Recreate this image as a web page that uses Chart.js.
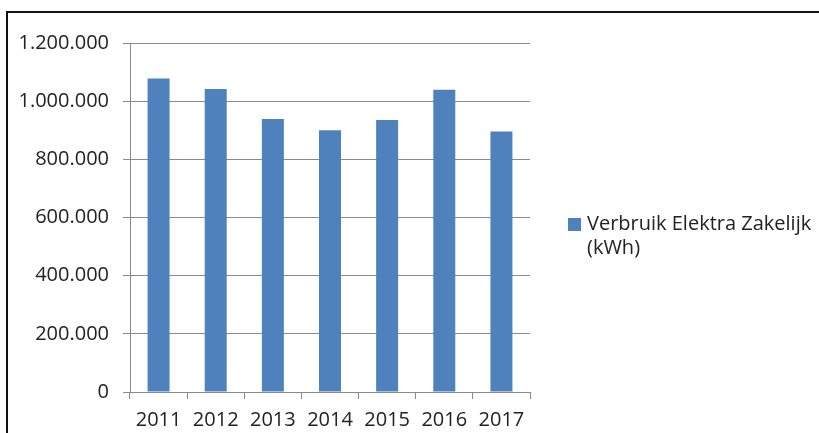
<!DOCTYPE html>
<html>
<head>
<meta charset="utf-8">
<script src="https://cdn.jsdelivr.net/npm/chart.js@4/dist/chart.umd.min.js"></script>
<style>
	html, body { margin: 0; padding: 0; background: #fff; overflow: hidden; }
	#wrap { position: relative; width: 819px; height: 433px; }
	#frame { position: absolute; left: 6px; top: 11px; width: 840px; height: 460px; border: 2px solid #111; box-sizing: border-box; }
	canvas { position: absolute; left: 0; top: 0; }
</style>
</head>
<body>
<div id="wrap">
	<div id="frame"></div>
	<canvas id="chart_canvas" width="819" height="433"></canvas>
</div>
<script>
const years = ["2011", "2012", "2013", "2014", "2015", "2016", "2017"];
const verbruik = [1078000, 1042000, 939000, 900000, 935000, 1039000, 896000];
const seriesLabel = "Verbruik Elektra Zakelijk (kWh)";
const yTicks = [0, 200000, 400000, 600000, 800000, 1000000, 1200000];

const fontFamily = "'Open Sans', sans-serif";
const textColor = "#222";
const gridColor = "#8a8a8a";
const barColor = "#4f81bd";

function formatNl(v) {
	return String(v).replace(/\B(?=(\d{3})+(?!\d))/g, ".");
}

// legend on the right, wrapped in two lines like the excel original
const sideLegend = {
	id: "sideLegend",
	afterDraw: function(chart) {
		const ctx = chart.ctx;
		const ds = chart.data.datasets[0];
		ctx.save();
		ctx.font = "20px " + fontFamily;
		ctx.textBaseline = "middle";
		const words = ds.label.split(" ");
		const lines = [];
		let line = "";
		words.forEach(function(w) {
			const test = line ? line + " " + w : w;
			if (ctx.measureText(test).width > 228 && line) {
				lines.push(line);
				line = w;
			} else {
				line = test;
			}
		});
		lines.push(line);
		const x = 568, y = 224;
		ctx.fillStyle = ds.backgroundColor;
		ctx.fillRect(x, y - 6, 13, 13);
		ctx.fillStyle = textColor;
		lines.forEach(function(l, i) {
			ctx.fillText(l, x + 19, y + i * 24);
		});
		ctx.restore();
	}
};

new Chart(document.getElementById("chart_canvas"), {
	type: "bar",
	data: {
		labels: years,
		datasets: [{
			label: seriesLabel,
			data: verbruik,
			backgroundColor: barColor,
			borderWidth: 0,
			categoryPercentage: 1,
			barPercentage: 0.385,
		}]
	},
	options: {
		responsive: false,
		animation: false,
		layout: { padding: { left: 0, right: 289, top: 43, bottom: 0 } },
		plugins: {
			legend: { display: false },
			tooltip: { enabled: false },
		},
		scales: {
			x: {
				grid: { drawOnChartArea: false, drawTicks: true, tickLength: 7, color: gridColor, offset: true },
				border: { display: true, color: gridColor, width: 1 },
				ticks: { color: textColor, font: { family: fontFamily, size: 20 }, padding: 9, maxRotation: 0 },
				afterFit: function(scale) { scale.height = 41; },
			},
			y: {
				min: 0,
				max: 1200000,
				afterBuildTicks: function(scale) {
					scale.ticks = yTicks.map(function(v) { return { value: v }; });
				},
				grid: { color: gridColor, tickLength: 7, drawTicks: true },
				border: { display: true, color: gridColor, width: 1 },
				ticks: {
					color: textColor,
					font: { family: fontFamily, size: 20 },
					padding: 14,
					callback: function(v) { return formatNl(v); },
				},
				afterFit: function(scale) { scale.width = 130; },
			}
		}
	},
	plugins: [sideLegend]
});
</script>
</body>
</html>
